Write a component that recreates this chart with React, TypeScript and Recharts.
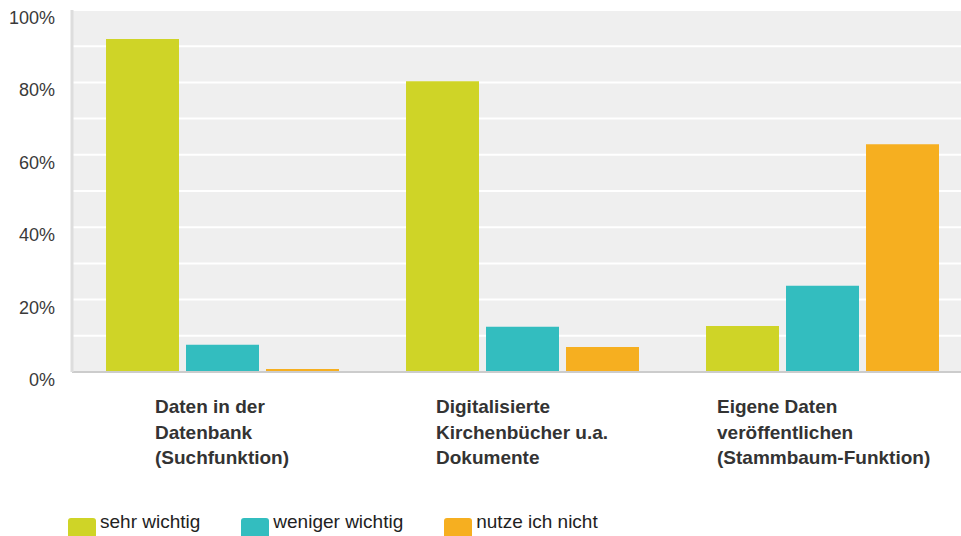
import { Bar, BarChart, CartesianGrid, XAxis, YAxis } from "recharts";

const categories = [
  ["Daten in der", "Datenbank", "(Suchfunktion)"],
  ["Digitalisierte", "Kirchenbücher u.a.", "Dokumente"],
  ["Eigene Daten", "veröffentlichen", "(Stammbaum-Funktion)"],
];
const sehrWichtig = [92, 80.3, 12.7];
const wenigerWichtig = [7.5, 12.5, 23.8];
const nutzeNicht = [0.8, 6.9, 62.9];
const yTicks = [0, 10, 20, 30, 40, 50, 60, 70, 80, 90, 100];

const series = [
  { key: "sehr", name: "sehr wichtig", color: "#CFD427" },
  { key: "weniger", name: "weniger wichtig", color: "#33BDBF" },
  { key: "nutze", name: "nutze ich nicht", color: "#F6AF20" },
];

const data = categories.map((lines, i) => ({
  name: lines.join(" "),
  lines,
  sehr: sehrWichtig[i],
  weniger: wenigerWichtig[i],
  nutze: nutzeNicht[i],
}));

const FONT = "'Liberation Sans', Arial, sans-serif";

function YTick({ x, y, payload }: any) {
  const v = payload.value;
  if (v % 20 !== 0) return null;
  return (
    <text x={x} y={y} dy={14} textAnchor="end" fill="#3a3a3a" fontSize={18} fontFamily={FONT}>
      {v}%
    </text>
  );
}

function XTick({ x, y, index }: any) {
  const lines = categories[index];
  const left = x - 67 - index * 19;
  return (
    <text x={left} y={y} textAnchor="start" fill="#333" fontSize={19} fontWeight="bold" fontFamily={FONT}>
      {lines.map((l, i) => (
        <tspan key={i} x={left} dy={i === 0 ? 33 : 25.5}>
          {l}
        </tspan>
      ))}
    </text>
  );
}

export default function App() {
  return (
    <div
      style={{
        position: "fixed",
        left: 0,
        top: 0,
        width: 961,
        height: 536,
        overflow: "hidden",
        background: "#fff",
      }}
    >
      <BarChart
        width={992}
        height={536}
        data={data}
        margin={{ top: 10, right: 20, bottom: 0, left: 0 }}
        barGap={7}
        barSize={73}
      >
        <CartesianGrid
          vertical={false}
          stroke="#ffffff"
          strokeWidth={2}
          fill="#efefef"
        />
        <XAxis
          dataKey="name"
          height={164}
          tickLine={false}
          axisLine={{ stroke: "#cccccc", strokeWidth: 2 }}
          tick={<XTick />}
          interval={0}
        />
        <YAxis
          width={72}
          domain={[0, 100]}
          ticks={yTicks}
          tickLine={false}
          tickSize={0}
          tickMargin={17}
          axisLine={{ stroke: "#dddddd", strokeWidth: 3 }}
          tick={<YTick />}
          interval={0}
        />
        {series.map((s) => (
          <Bar
            key={s.key}
            dataKey={s.key}
            name={s.name}
            fill={s.color}
            isAnimationActive={false}
          />
        ))}
      </BarChart>
      <div
        style={{
          position: "absolute",
          left: 68,
          top: 515,
          display: "flex",
          alignItems: "flex-start",
          fontFamily: FONT,
          fontSize: 19,
          color: "#222",
        }}
      >
        {series.map((s) => (
          <div key={s.key} style={{ display: "flex", alignItems: "flex-start", marginRight: 41 }}>
            <div
              style={{
                width: 28,
                height: 28,
                borderRadius: 3,
                background: s.color,
                marginRight: 4,
                marginTop: 3,
              }}
            />
            <span style={{ lineHeight: "20px", marginTop: -3 }}>{s.name}</span>
          </div>
        ))}
      </div>
    </div>
  );
}
